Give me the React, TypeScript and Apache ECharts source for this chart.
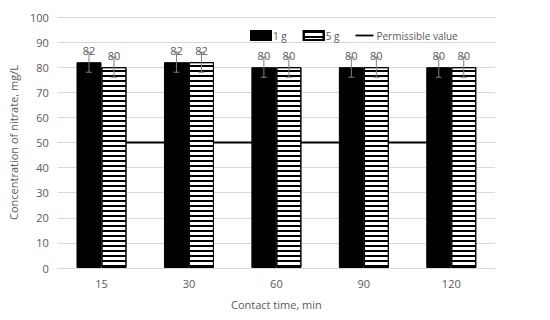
import React, { useEffect, useRef } from "react";
import * as echarts from "echarts";

const categories = ["15", "30", "60", "90", "120"];
const values1g = [82, 82, 80, 80, 80];
const values5g = [80, 82, 80, 80, 80];
const err1g = [4, 4, 4, 4, 4];
const err5g = [4, 4, 4, 4, 4];
const permissible = [50, 50, 50, 50, 50];

const FONT = "Open Sans";
const TXT = "#595959";
const BAR_W = 25;

function errorSeries(values: number[], errs: number[], offset: number) {
  return {
    type: "custom",
    z: 5,
    silent: true,
    data: values.map((v, i) => [i, v, errs[i]]),
    renderItem: (params: any, api: any) => {
      const idx = api.value(0);
      const v = api.value(1);
      const e = api.value(2);
      const hi = api.coord([idx, v + e]);
      const lo = api.coord([idx, v - e]);
      const x = hi[0] + offset;
      const cap = 3;
      const style = { stroke: "#7f7f7f", lineWidth: 1 };
      return {
        type: "group",
        children: [
          { type: "line", shape: { x1: x, y1: hi[1], x2: x, y2: lo[1] }, style },
          { type: "line", shape: { x1: x - cap, y1: hi[1], x2: x + cap, y2: hi[1] }, style },
          { type: "line", shape: { x1: x - cap, y1: lo[1], x2: x + cap, y2: lo[1] }, style },
        ],
      };
    },
  };
}

export default function App() {
  const ref = useRef<HTMLDivElement>(null);
  useEffect(() => {
    if (!ref.current) return;
    const chart = echarts.init(ref.current, undefined, { renderer: "svg" });
    const labelCfg = {
      show: true,
      position: "top",
      distance: 6,
      color: TXT,
      fontFamily: FONT,
      fontSize: 11,
    };
    chart.setOption({
      animation: false,
      backgroundColor: "#fff",
      textStyle: { fontFamily: FONT },
      graphic: [
        {
          type: "polyline",
          shape: {
            points: [
              [6.5, 6.5],
              [544.5, 6.5],
              [544.5, 312.5],
              [6.5, 312.5],
              [6.5, 6.5],
            ],
          },
          style: { stroke: "#d0d0d0", lineWidth: 1, fill: null },
          silent: true,
          z: 100,
        },
      ],
      grid: { left: 57, right: 55, top: 17, bottom: 52 },
      legend: {
        top: 25,
        left: 245,
        itemWidth: 20,
        itemHeight: 9,
        itemGap: 16,
        textStyle: { color: TXT, fontFamily: FONT, fontSize: 10, padding: [0, 0, 0, -3] },
        data: [
          { name: "1 g", icon: "rect" },
          { name: "5 g", icon: "rect" },
          {
            name: "Permissible value",
            icon: "path://M0,0 L0,0 M0,4 L20,4 L20,6 L0,6 Z M20,10 L20,10",
          },
        ],
      },
      xAxis: {
        type: "category",
        data: categories,
        name: "Contact time, min",
        nameLocation: "middle",
        nameGap: 31,
        nameTextStyle: { color: TXT, fontFamily: FONT, fontSize: 11 },
        axisLine: { lineStyle: { color: "#d9d9d9" } },
        axisTick: { show: false },
        axisLabel: { color: TXT, fontFamily: FONT, fontSize: 11, margin: 10 },
      },
      yAxis: {
        type: "value",
        min: 0,
        max: 100,
        interval: 10,
        name: "Concentration of nitrate, mg/L",
        nameLocation: "middle",
        nameGap: 33,
        nameTextStyle: { color: TXT, fontFamily: FONT, fontSize: 11 },
        axisLine: { show: false },
        axisTick: { show: false },
        axisLabel: { color: TXT, fontFamily: FONT, fontSize: 11, margin: 9 },
        splitLine: { lineStyle: { color: "#d9d9d9" } },
      },
      series: [
        {
          name: "Permissible value",
          type: "line",
          data: permissible,
          symbol: "none",
          z: 1,
          lineStyle: { color: "#000", width: 2 },
          itemStyle: { color: "#000" },
        },
        {
          name: "1 g",
          type: "bar",
          data: values1g,
          barWidth: BAR_W,
          barGap: "0%",
          z: 3,
          itemStyle: { color: "#000", borderColor: "#000", borderWidth: 1 },
          label: labelCfg,
        },
        {
          name: "5 g",
          type: "bar",
          data: values5g,
          barWidth: BAR_W,
          barGap: "0%",
          z: 3,
          itemStyle: {
            color: "#fff",
            borderColor: "#000",
            borderWidth: 1,
            decal: {
              symbol: "rect",
              symbolSize: 1,
              color: "#000",
              dashArrayX: [1, 0],
              dashArrayY: [1.2, 2.6],
              rotation: 0,
            },
          },
          label: labelCfg,
        },
        errorSeries(values1g, err1g, -BAR_W / 2),
        errorSeries(values5g, err5g, BAR_W / 2),
      ],
    });
    return () => chart.dispose();
  }, []);
  return <div ref={ref} style={{ width: 550, height: 320, margin: -8 }} />;
}
